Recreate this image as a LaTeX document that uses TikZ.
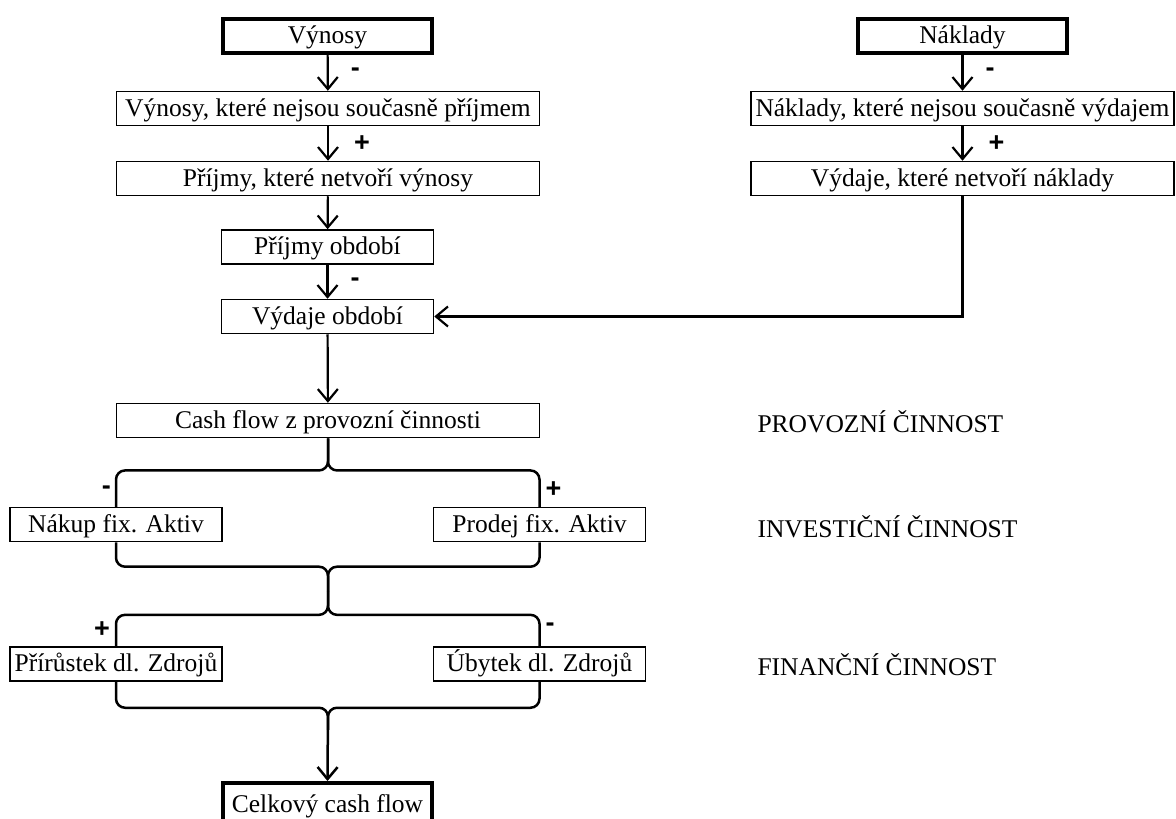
\documentclass[tikz,border=0pt]{standalone}
\usepackage{fontspec}
\setmainfont{Liberation Serif}
\newfontfamily\signfont{Liberation Sans}
\usetikzlibrary{arrows.meta}
\usetikzlibrary{positioning}
\usetikzlibrary{calc}

\begin{document}
\begin{tikzpicture}[x=1pt,y=-1pt,
  font=\fontsize{25.5}{30}\selectfont,
  box/.style={draw,line width=1.5pt,inner sep=0pt,minimum height=34pt,
    text height=20pt,text depth=5pt},
  narrow/.style={box,minimum width=212pt},
  wide/.style={box,minimum width=423pt},
  heavy/.style={box,minimum width=209pt,minimum height=34pt,line width=4pt},
  sign/.style={font=\signfont\bfseries\fontsize{27}{27}\selectfont,inner sep=0pt},
  brace/.style={line width=2.5pt,rounded corners=9pt},
  >={Straight Barb[length=12pt,width=20pt]},
  every edge/.style={draw,line width=2.2pt}
  ]
  \useasboundingbox (0,0) rectangle (1176,819);

  % left column
  \node[heavy] (vynosy)    at (327.5,35.5)  {Výnosy};
  \node[wide]  (vynprij)   at (328,108.5)   {Výnosy, které nejsou současně příjmem};
  \node[wide]  (prijnevyn) at (328,178.5)   {Příjmy, které netvoří výnosy};
  \node[narrow] (prijobd)  at (327.5,247)   {Příjmy období};
  \node[narrow] (vydobd)   at (327.5,316.5) {Výdaje období};
  \node[wide]  (cfprov)    at (328,420.5)   {Cash flow z provozní činnosti};

  % right column
  \node[heavy] (naklady)   at (962.5,35.5)  {Náklady};
  \node[wide]  (nakvyd)    at (962.5,108.5) {Náklady, které nejsou současně výdajem};
  \node[wide]  (vydnenak)  at (962.5,178.5) {Výdaje, které netvoří náklady};

  % activities
  \node[narrow] (nakup)    at (116,524.5)   {Nákup fix. Aktiv};
  \node[narrow] (prodej)   at (539.5,524.5) {Prodej fix. Aktiv};
  \node[narrow] (prir)     at (116,664)     {Přírůstek dl. Zdrojů};
  \node[narrow] (ubytek)   at (539.5,664)   {Úbytek dl. Zdrojů};
  \node[heavy,minimum height=44pt] (celkovy) at (327.5,805) {Celkový cash flow};

  \node[anchor=west] (lprov) at (754,422) {PROVOZNÍ ČINNOST};
  \node[anchor=west] (linv)  at (754,527) {INVESTIČNÍ ČINNOST};
  \node[anchor=west] (lfin)  at (754,665) {FINANČNÍ ČINNOST};

  \path[->]
    (vynosy)    edge node[sign,right=22pt] {-} (vynprij)
    (vynprij)   edge node[sign,right=25pt] {+} (prijnevyn)
    (prijnevyn) edge (prijobd)
    (prijobd)   edge node[sign,right=22pt] {-} (vydobd)
    (vydobd)    edge (cfprov)
    (naklady)   edge node[sign,right=22pt] {-} (nakvyd)
    (nakvyd)    edge node[sign,right=25pt] {+} (vydnenak)
    ;
  \draw[->,line width=2.2pt] (vydnenak.south) |- (vydobd.east);

  % braces
  \coordinate (b1) at ($(cfprov.south)!.47!(cfprov.south |- nakup.north)$);
  \coordinate (t1) at ($(cfprov.south |- nakup.south)!.47!(cfprov.south |- prir.north)$);
  \coordinate (b2) at ($(cfprov.south |- nakup.south)!.5!(t1)$);
  \coordinate (b3) at ($(t1)!.43!(cfprov.south |- prir.north)$);
  \coordinate (b4) at ($(cfprov.south |- prir.south)+(0,26)$);
  \coordinate (t2) at ($(b4)+(0,22)$);

  \draw[brace] (nakup.north) |- (b1) -- (cfprov.south);
  \draw[brace] (prodej.north) |- (b1) -- (cfprov.south);
  \draw[brace] (nakup.south) |- (b2) -- (t1);
  \draw[brace] (prodej.south) |- (b2) -- (t1);
  \draw[brace] (prir.north) |- (b3) -- (t1);
  \draw[brace] (ubytek.north) |- (b3) -- (t1);
  \draw[brace] (ubytek.south) |- (b4) -- (t2);
  \draw[brace,->] (prir.south) |- (b4) -- (celkovy.north);

  \node[sign,anchor=east] (m1) at ($(nakup.north)+(-5,-17)$)  {-};
  \node[sign,anchor=west] (p1) at ($(prodej.north)+(6,-17)$)  {+};
  \node[sign,anchor=east] (p2) at ($(prir.north)+(-6,-17)$)   {+};
  \node[sign,anchor=west] (m2) at ($(ubytek.north)+(6,-19)$)  {-};
\end{tikzpicture}
\end{document}
